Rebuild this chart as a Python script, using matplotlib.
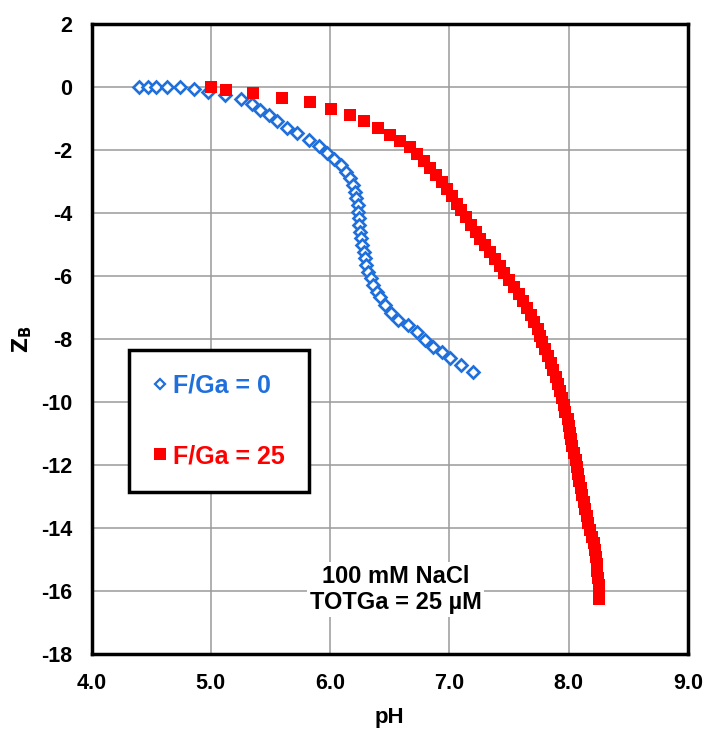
import matplotlib
matplotlib.use("Agg")
import matplotlib.pyplot as plt
from matplotlib.lines import Line2D

# ---- data ----
ph_f0 = [4.40, 4.47, 4.54, 4.635, 4.74, 4.855, 4.98, 5.12, 5.255, 5.345, 5.415, 5.485,
         5.555, 5.64, 5.725, 5.82, 5.905, 5.97, 6.035, 6.095, 6.135, 6.165, 6.19, 6.21,
         6.22, 6.23, 6.235, 6.24, 6.245, 6.25, 6.26, 6.27, 6.28, 6.29, 6.30, 6.32, 6.34,
         6.36, 6.39, 6.42, 6.46, 6.51, 6.57, 6.655, 6.725, 6.795, 6.865, 6.935, 7.005,
         7.10, 7.20]
z_f0 = [0.00, 0.00, 0.00, 0.00, 0.00, -0.05, -0.15, -0.25, -0.39, -0.55, -0.73, -0.88,
        -1.08, -1.29, -1.46, -1.67, -1.86, -2.08, -2.28, -2.49, -2.70, -2.90, -3.11, -3.32,
        -3.53, -3.75, -3.96, -4.17, -4.38, -4.59, -4.80, -5.02, -5.23, -5.44, -5.65, -5.86,
        -6.07, -6.29, -6.50, -6.66, -6.92, -7.18, -7.40, -7.56, -7.77, -8.03, -8.24, -8.40,
        -8.61, -8.83, -9.04]

ph_f25 = [5.00, 5.13, 5.35, 5.60, 5.83, 6.01, 6.17, 6.28, 6.40, 6.50, 6.59, 6.67, 6.73,
          6.79, 6.84, 6.89, 6.935, 6.98, 7.02, 7.06, 7.10, 7.14, 7.18, 7.22, 7.26, 7.30,
          7.34, 7.38, 7.42, 7.46, 7.50, 7.54, 7.58, 7.62, 7.65, 7.68, 7.71, 7.74, 7.76,
          7.78, 7.80, 7.83, 7.85, 7.87, 7.89, 7.91, 7.93, 7.94, 7.96, 7.97, 7.99, 8.00,
          8.01, 8.02, 8.03, 8.045, 8.06, 8.07, 8.08, 8.09, 8.10, 8.115, 8.13, 8.14, 8.15,
          8.16, 8.18, 8.195, 8.21, 8.22, 8.23, 8.235, 8.24, 8.245, 8.25, 8.25, 8.255]
z_f25 = [0.00, -0.10, -0.18, -0.34, -0.49, -0.70, -0.89, -1.09, -1.31, -1.52, -1.71,
         -1.91, -2.13, -2.35, -2.57, -2.79, -3.02, -3.25, -3.47, -3.70, -3.92, -4.14,
         -4.37, -4.59, -4.81, -5.03, -5.25, -5.47, -5.69, -5.91, -6.13, -6.35, -6.57,
         -6.79, -7.01, -7.23, -7.45, -7.67, -7.89, -8.11, -8.33, -8.55, -8.77, -8.99,
         -9.21, -9.43, -9.65, -9.87, -10.09, -10.31, -10.53, -10.75, -10.97, -11.19,
         -11.41, -11.63, -11.85, -12.07, -12.29, -12.51, -12.73, -12.95, -13.17, -13.39,
         -13.61, -13.83, -14.05, -14.27, -14.49, -14.71, -14.93, -15.15, -15.37, -15.59,
         -15.81, -16.03, -16.25]

series_labels = ["F/Ga = 0", "F/Ga = 25"]
x_ticks = [4.0, 5.0, 6.0, 7.0, 8.0, 9.0]
x_ticklabels = ["4.0", "5.0", "6.0", "7.0", "8.0", "9.0"]
y_ticks = [2, 0, -2, -4, -6, -8, -10, -12, -14, -16, -18]
note_text = "100 mM NaCl\nTOTGa = 25 µM"

BLUE = "#1f6fdc"
RED = "#ff0000"
TICKFONT = ["Liberation Sans Narrow", "Liberation Sans", "DejaVu Sans"]

fig = plt.figure(figsize=(7.05, 7.38), dpi=100)
ax = fig.add_axes([91.5 / 705, 1 - 654 / 738, (688 - 91.5) / 705, (654 - 24) / 738])

ax.set_xlim(4.0, 9.0)
ax.set_ylim(-18, 2)
ax.grid(True, color="#9a9a9a", linewidth=1.1)
ax.set_axisbelow(True)

ax.plot(ph_f0, z_f0, linestyle="none", marker="D", markersize=6.0,
        markerfacecolor="white", markeredgecolor=BLUE, markeredgewidth=1.9, zorder=3)
ax.plot(ph_f25, z_f25, linestyle="none", marker="s", markersize=9.3,
        markerfacecolor=RED, markeredgewidth=0, zorder=4)

ax.set_xticks(x_ticks)
ax.set_xticklabels(x_ticklabels)
ax.set_yticks(y_ticks)
ax.set_yticklabels([str(v) for v in y_ticks])
ax.tick_params(axis="x", length=0, pad=14, labelsize=15.5)
ax.tick_params(axis="y", length=0, pad=14, labelsize=15.5)
for lab in ax.get_xticklabels() + ax.get_yticklabels():
    lab.set_fontweight("bold")
    lab.set_family(TICKFONT)

for sp in ax.spines.values():
    sp.set_linewidth(2.5)
    sp.set_color("black")

ax.set_xlabel("pH", fontsize=16, fontweight="bold", family=TICKFONT, labelpad=9)
ax.set_ylabel(r"$\mathbf{Z_B}$", fontsize=15, labelpad=5)

# legend
handles = [
    Line2D([], [], linestyle="none", marker="D", markersize=5.0,
           markerfacecolor="white", markeredgecolor=BLUE, markeredgewidth=1.6),
    Line2D([], [], linestyle="none", marker="s", markersize=8.5,
           markerfacecolor=RED, markeredgewidth=0),
]
leg = ax.legend(handles, series_labels, loc="upper left",
                bbox_to_anchor=(0.0634, 0.4825), frameon=True, fancybox=False,
                edgecolor="black", framealpha=1, borderpad=0.95,
                labelspacing=1.85, handlelength=0.55, handletextpad=0.25,
                borderaxespad=0, prop={"family": "Liberation Sans", "weight": "bold", "size": 18})
leg.get_frame().set_linewidth(2.5)
for t, c in zip(leg.get_texts(), [BLUE, RED]):
    t.set_color(c)

ax.text(6.55, -15.95, note_text, ha="center", va="center", fontsize=17,
        fontweight="bold", family="Liberation Sans", linespacing=1.15,
        bbox=dict(facecolor="white", edgecolor="none", pad=2), zorder=5)

fig.savefig("out.png", dpi=100)
